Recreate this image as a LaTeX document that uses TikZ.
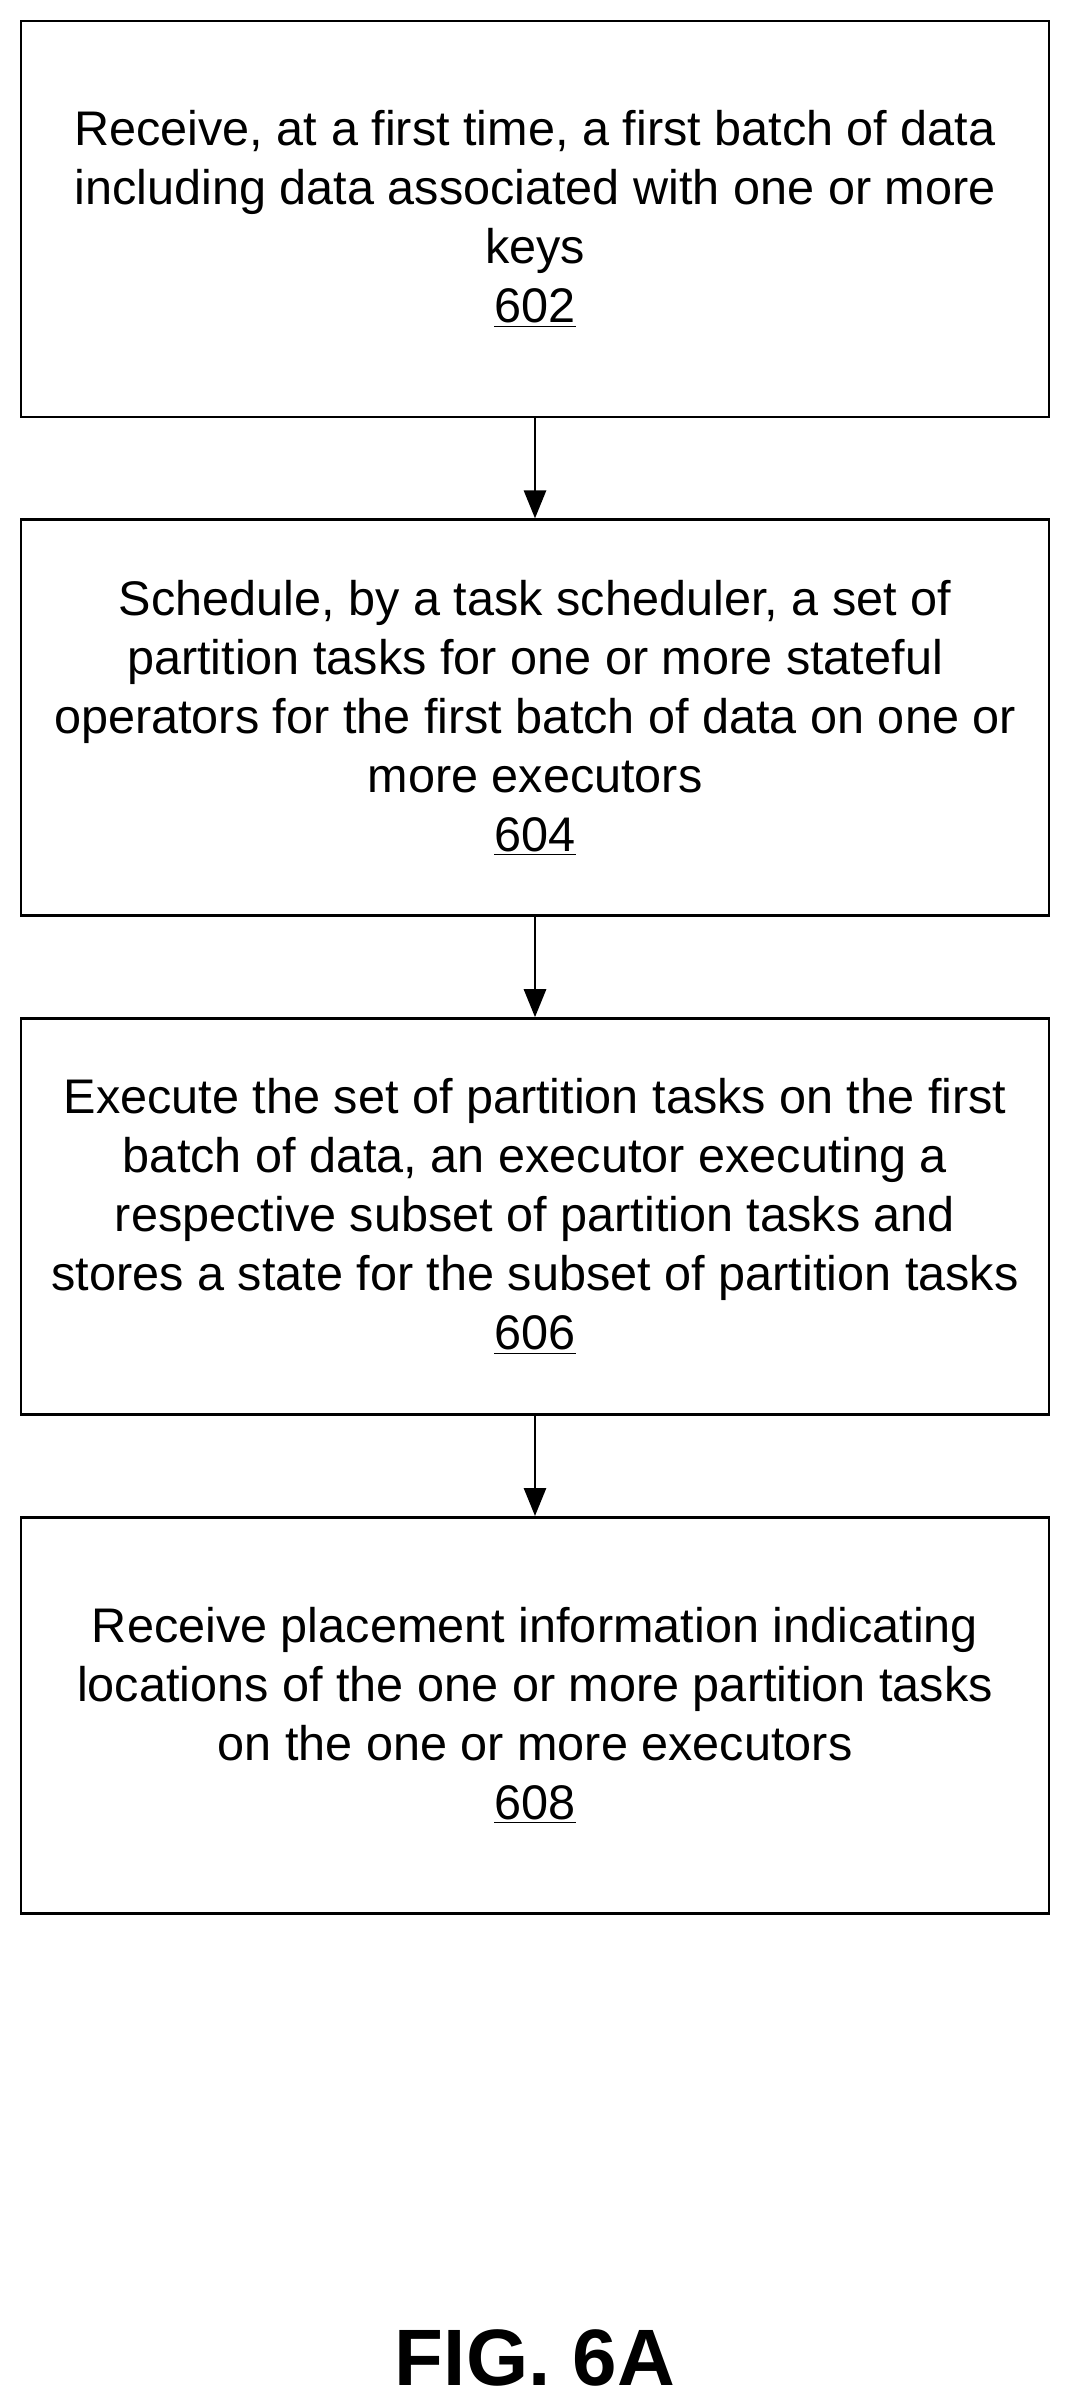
\documentclass[tikz,border=0pt]{standalone}
\usepackage{fontspec}
\setmainfont{Liberation Sans}
\usetikzlibrary{positioning,arrows.meta}
\begin{document}
\begin{tikzpicture}[x=1pt,y=1pt,yscale=-1,
  stepbox/.style={draw, line width=1.4pt, minimum width=514pt, minimum height=198pt, align=center, font=\fontsize{24.3}{29.5}\selectfont, inner sep=0pt},
  flow/.style={line width=1.4pt, -{Triangle[width=11pt,length=14pt]}},
  node distance=50pt]
  \useasboundingbox (0,0) rectangle (535.5,1204);
  % steps
  \node[stepbox] (s602) at (267.5,109.5) {Receive, at a first time, a first batch of data\\including data associated with one or more\\keys\\\underline{602}};
  \node[stepbox, below=of s602] (s604) {Schedule, by a task scheduler, a set of\\partition tasks for one or more stateful\\operators for the first batch of data on one or\\more executors\\\underline{604}};
  \node[stepbox, below=of s604] (s606) {Execute the set of partition tasks on the first\\batch of data, an executor executing a\\respective subset of partition tasks and\\stores a state for the subset of partition tasks\\\underline{606}};
  \node[stepbox, below=of s606] (s608) {Receive placement information indicating\\locations of the one or more partition tasks\\on the one or more executors\\\underline{608}};
  % arrows
  \draw[flow] (s602) -- (s604);
  \draw[flow] (s604) -- (s606);
  \draw[flow] (s606) -- (s608);
  % caption
  \node[font=\fontsize{40}{48}\selectfont\bfseries] (fig) at (267.5,1179) {FIG. 6A};
\end{tikzpicture}
\end{document}
